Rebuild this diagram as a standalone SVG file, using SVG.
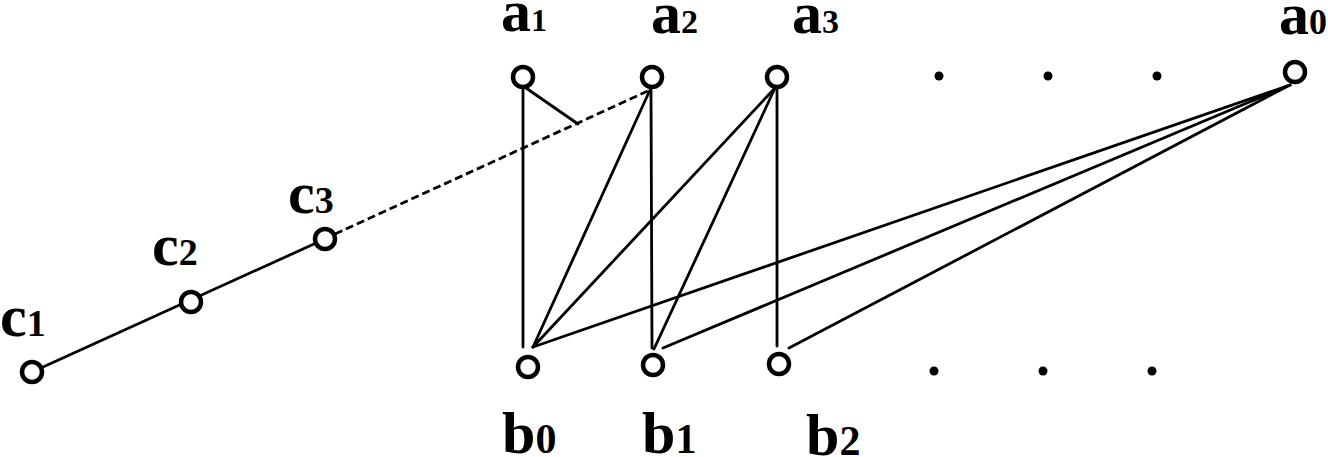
<svg xmlns="http://www.w3.org/2000/svg" width="1328" height="457" viewBox="0 0 1328 457">
<style>
.n{fill:#fff;stroke:#000;stroke-width:4.5}
.d{fill:#000}
.e{stroke:#000;stroke-width:2.8;fill:none;stroke-linecap:round}
.dash{stroke-dasharray:8 4;stroke-linecap:butt}
.l{font-family:"Liberation Serif","Times New Roman",serif;font-weight:bold;font-size:60px;fill:#000}
.s{font-family:"Liberation Serif","Times New Roman",serif;font-weight:bold}
</style>
<rect width="1328" height="457" fill="#fff"/>
<g id="connectors">
<line class="e" x1="32" y1="372" x2="325" y2="239"/>
<line class="e dash" x1="335" y1="234" x2="650" y2="90"/>
<line class="e" x1="526" y1="88" x2="578" y2="124"/>
<line class="e" x1="523" y1="88" x2="523" y2="347"/>
<line class="e" x1="651" y1="90" x2="652" y2="348"/>
<line class="e" x1="650" y1="90" x2="533" y2="347"/>
<line class="e" x1="775" y1="88" x2="533" y2="347"/>
<line class="e" x1="775" y1="88" x2="654" y2="349"/>
<line class="e" x1="777" y1="88" x2="777" y2="346"/>
<line class="e" x1="1290" y1="85" x2="533" y2="347"/>
<line class="e" x1="1290" y1="85" x2="663" y2="348"/>
<line class="e" x1="1290" y1="85" x2="789" y2="348"/>
</g>
<g id="a1"><circle class="n" cx="523" cy="77" r="10"/><text class="l" x="501" y="31">a<tspan class="s" font-size="32">1</tspan></text></g>
<g id="a2"><circle class="n" cx="652" cy="77" r="10"/><text class="l" x="651" y="33">a<tspan class="s" font-size="34">2</tspan></text></g>
<g id="a3"><circle class="n" cx="777" cy="77" r="10"/><text class="l" x="792" y="33">a<tspan class="s" font-size="34">3</tspan></text></g>
<g id="a0"><circle class="n" cx="1295" cy="72" r="10"/><text class="l" x="1279" y="34">a<tspan class="s" font-size="36">0</tspan></text></g>
<g id="b0"><circle class="n" cx="528" cy="367" r="10"/><text class="l" x="502" y="453">b<tspan class="s" font-size="42">0</tspan></text></g>
<g id="b1"><circle class="n" cx="653" cy="365" r="10"/><text class="l" x="642" y="453">b<tspan class="s" font-size="42">1</tspan></text></g>
<g id="b2"><circle class="n" cx="779" cy="364" r="10"/><text class="l" x="806" y="455">b<tspan class="s" font-size="42">2</tspan></text></g>
<g id="c1"><circle class="n" cx="32" cy="372" r="10"/><text class="l" x="0" y="336">c<tspan class="s" font-size="38">1</tspan></text></g>
<g id="c2"><circle class="n" cx="191" cy="302" r="10"/><text class="l" x="152" y="265">c<tspan class="s" font-size="38">2</tspan></text></g>
<g id="c3"><circle class="n" cx="325" cy="239" r="10"/><text class="l" x="288" y="213">c<tspan class="s" font-size="38">3</tspan></text></g>
<g id="dots-top"><circle class="d" cx="939" cy="76" r="4.5"/><circle class="d" cx="1048" cy="76" r="4.5"/><circle class="d" cx="1157" cy="76" r="4.5"/></g>
<g id="dots-bottom"><circle class="d" cx="934" cy="371" r="4.5"/><circle class="d" cx="1043" cy="371" r="4.5"/><circle class="d" cx="1152" cy="371" r="4.5"/></g>
</svg>
